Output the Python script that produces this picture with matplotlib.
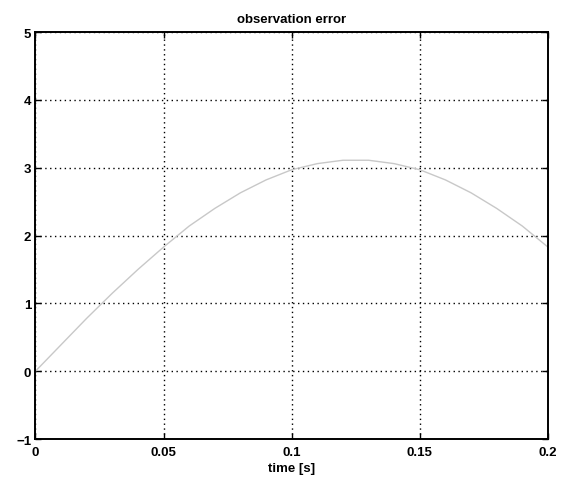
import numpy as np
import matplotlib
matplotlib.use('Agg')
import matplotlib.pyplot as plt

# values
t = [0.0, 0.01, 0.02, 0.03, 0.04, 0.05, 0.06, 0.07, 0.08, 0.09, 0.10,
     0.11, 0.12, 0.13, 0.14, 0.15, 0.16, 0.17, 0.18, 0.19, 0.20]
err = [0.0, 0.39, 0.78, 1.15, 1.50, 1.83, 2.14, 2.40, 2.63, 2.82, 2.97,
       3.06, 3.11, 3.11, 3.06, 2.97, 2.82, 2.63, 2.40, 2.14, 1.83]
xticks = [0, 0.05, 0.1, 0.15, 0.2]
xticklabels = ['0', '0.05', '0.1', '0.15', '0.2']
yticks = [-1, 0, 1, 2, 3, 4, 5]

plt.rcParams['font.family'] = ['Liberation Sans', 'DejaVu Sans']
plt.rcParams['font.weight'] = 'bold'

fig = plt.figure(figsize=(5.62, 4.89), dpi=100)
ax = fig.add_axes([0.063, 0.100, 0.912, 0.8325])

ax.plot(t, err, color='#c8c8c8', lw=1.0)

ax.set_xlim(0, 0.2)
ax.set_ylim(-1, 5)
ax.set_xticks(xticks)
ax.set_xticklabels(xticklabels)
ax.set_yticks(yticks)
ax.set_yticklabels(['\u22121', '0', '1', '2', '3', '4', '5'])
ax.grid(True, color='black', linestyle=(0, (1, 2.5)), linewidth=1.0)
ax.tick_params(direction='in', top=True, right=True, length=4, width=1,
               labelsize=9.5)
ax.tick_params(axis='x', pad=5)
ax.tick_params(axis='y', pad=3)
for s in ax.spines.values():
    s.set_linewidth(1.4)

ax.set_title('observation error', fontsize=9.5, fontweight='bold', pad=7)
ax.set_xlabel('time [s]', fontsize=9.5, fontweight='bold', labelpad=3)

fig.savefig('out.png', dpi=100)
